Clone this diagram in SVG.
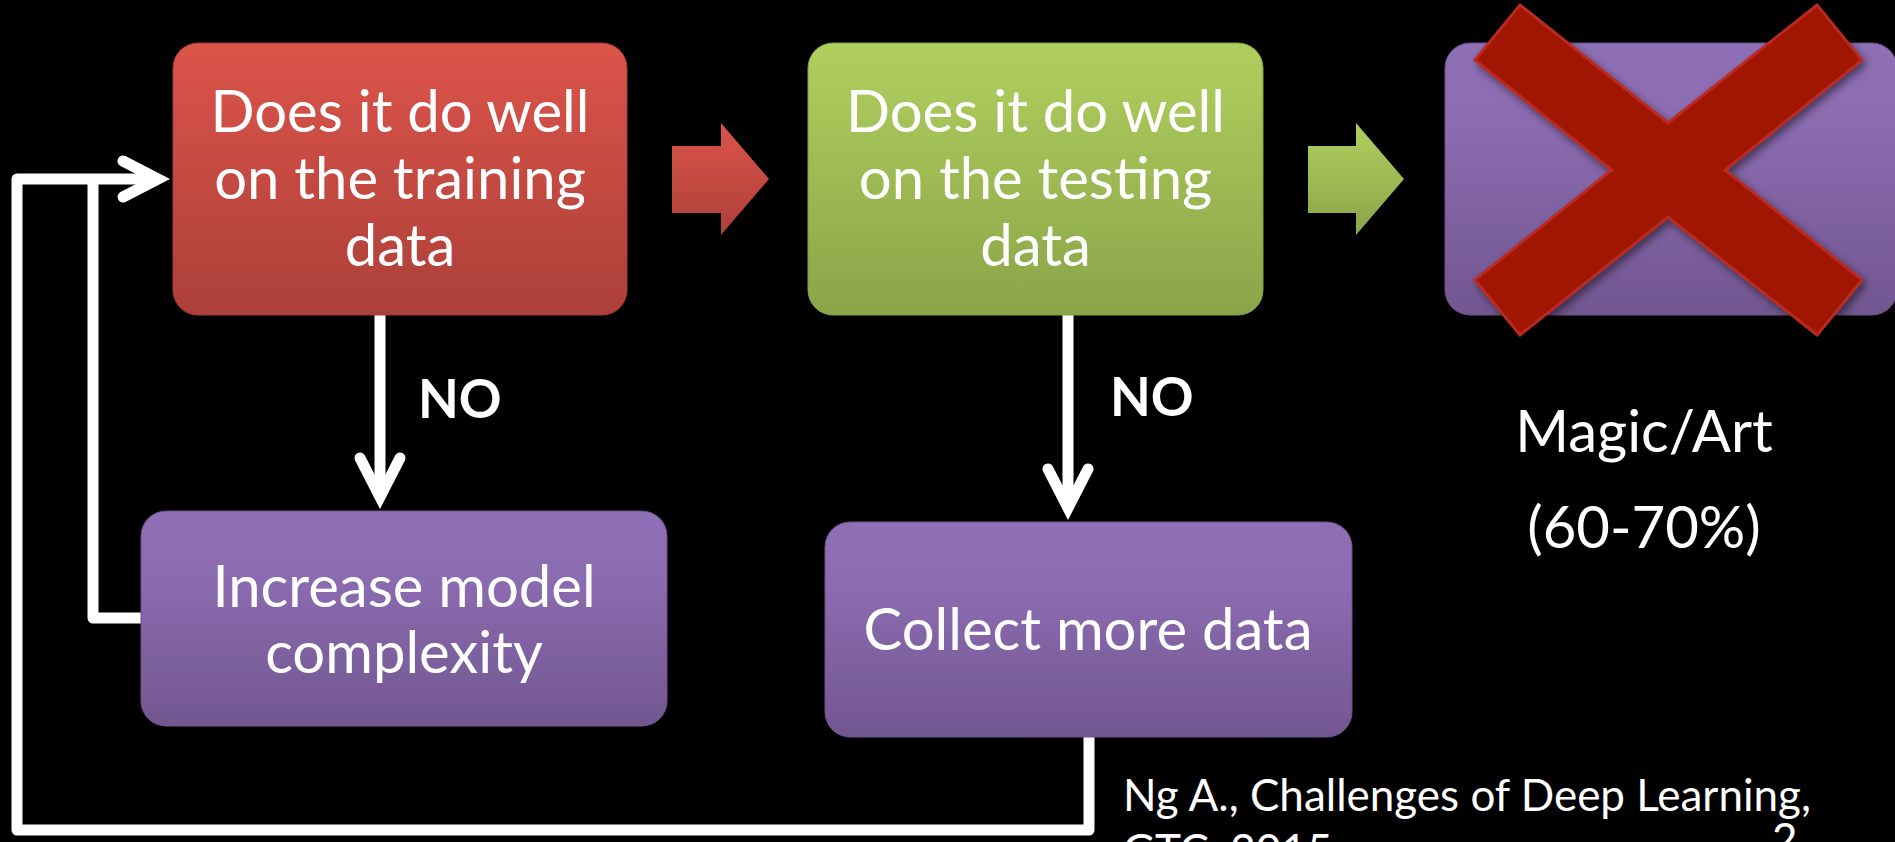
<svg xmlns="http://www.w3.org/2000/svg" width="1895" height="842" viewBox="0 0 1895 842">
<defs>
<linearGradient id="gRed" x1="0" y1="0" x2="0" y2="1"><stop offset="0" stop-color="#dc544a"/><stop offset="1" stop-color="#ac4039"/></linearGradient>
<linearGradient id="gGreen" x1="0" y1="0" x2="0" y2="1"><stop offset="0" stop-color="#b0cf5e"/><stop offset="1" stop-color="#8ba449"/></linearGradient>
<linearGradient id="gPurple" x1="0" y1="0" x2="0" y2="1"><stop offset="0" stop-color="#8f70b6"/><stop offset="0.3" stop-color="#8b6cb1"/><stop offset="1" stop-color="#725690"/></linearGradient>
<filter id="shadow" x="-10%" y="-10%" width="120%" height="120%"><feDropShadow dx="3" dy="4" stdDeviation="4" flood-color="#000" flood-opacity="0.5"/></filter>
<style>
.box{stroke-width:1}
.t{font-family:Lato,"Open Sans","Liberation Sans",sans-serif;fill:#fff;text-anchor:middle;font-size:58px}
.no{font-family:Lato,"Open Sans","Liberation Sans",sans-serif;fill:#fff;font-weight:bold;font-size:53px}
.cite{font-family:Lato,"Open Sans","Liberation Sans",sans-serif;fill:#fff;font-size:44px}
.wire{fill:none;stroke:#fff;stroke-width:11;stroke-linejoin:round}
.head{fill:none;stroke:#fff;stroke-width:11;stroke-linecap:round;stroke-linejoin:miter;stroke-miterlimit:6}
</style>
</defs>
<rect x="0" y="0" width="1895" height="842" fill="#000"/>

<g id="connectors">
<path class="wire" d="M1089 737 V830 H17 V179 H158"/>
<path class="wire" d="M141 618 H93 V179"/>
<polyline class="head" points="123,161 158,179 123,197"/>
<path class="wire" d="M380 315 V497"/>
<polyline class="head" points="360,458 380,497 400,458"/>
<path class="wire" d="M1068 315 V508"/>
<polyline class="head" points="1048,469 1068,508 1088,469"/>
<polygon points="672,146 721,146 721,123 769,179 721,235 721,213 672,213" fill="url(#gRed)"/>
<polygon points="1308,146 1356,146 1356,123 1404,179 1356,235 1356,213 1308,213" fill="url(#gGreen)"/>
</g>

<g id="node-train">
<rect class="box" x="173" y="43" width="454" height="272" rx="25" fill="url(#gRed)" stroke="#a33c35"/>
<text class="t" x="400" y="132">Does it do well</text>
<text class="t" x="400" y="199">on the training</text>
<text class="t" x="400" y="266">data</text>
</g>

<g id="node-test">
<rect class="box" x="808" y="43" width="455" height="272" rx="25" fill="url(#gGreen)" stroke="#86a045"/>
<text class="t" x="1035.5" y="132">Does it do well</text>
<text class="t" x="1035.5" y="199">on the testing</text>
<text class="t" x="1035.5" y="266">data</text>
</g>

<g id="node-magic">
<rect class="box" x="1445" y="43" width="452" height="272" rx="25" fill="url(#gPurple)" stroke="#6c5289"/>
<polygon filter="url(#shadow)" points="1520,5 1668,123 1817,5 1862,60 1725,170 1862,280 1817,335 1668,217 1520,335 1475,280 1612,170 1475,60" fill="#a01500" stroke="#b82a20" stroke-width="3" stroke-linejoin="miter"/>
<text class="t" x="1644" y="452">Magic/Art</text>
<text class="t" x="1644" y="548">(60-70%)</text>
</g>

<g id="node-increase">
<rect class="box" x="141" y="511" width="526" height="215" rx="25" fill="url(#gPurple)" stroke="#6c5289"/>
<text class="t" x="404" y="607">Increase model</text>
<text class="t" x="404" y="673">complexity</text>
</g>

<g id="node-collect">
<rect class="box" x="825" y="522" width="527" height="215" rx="25" fill="url(#gPurple)" stroke="#6c5289"/>
<text class="t" x="1088" y="650">Collect more data</text>
</g>

<g id="labels">
<text class="no" x="418" y="418">NO</text>
<text class="no" x="1110" y="416">NO</text>
<text class="cite" x="1123" y="811">Ng A., Challenges of Deep Learning,</text>
<text class="cite" x="1123" y="866">GTC, 2015</text>
<text class="cite" x="1772" y="855" font-size="30">2</text>
</g>
</svg>
